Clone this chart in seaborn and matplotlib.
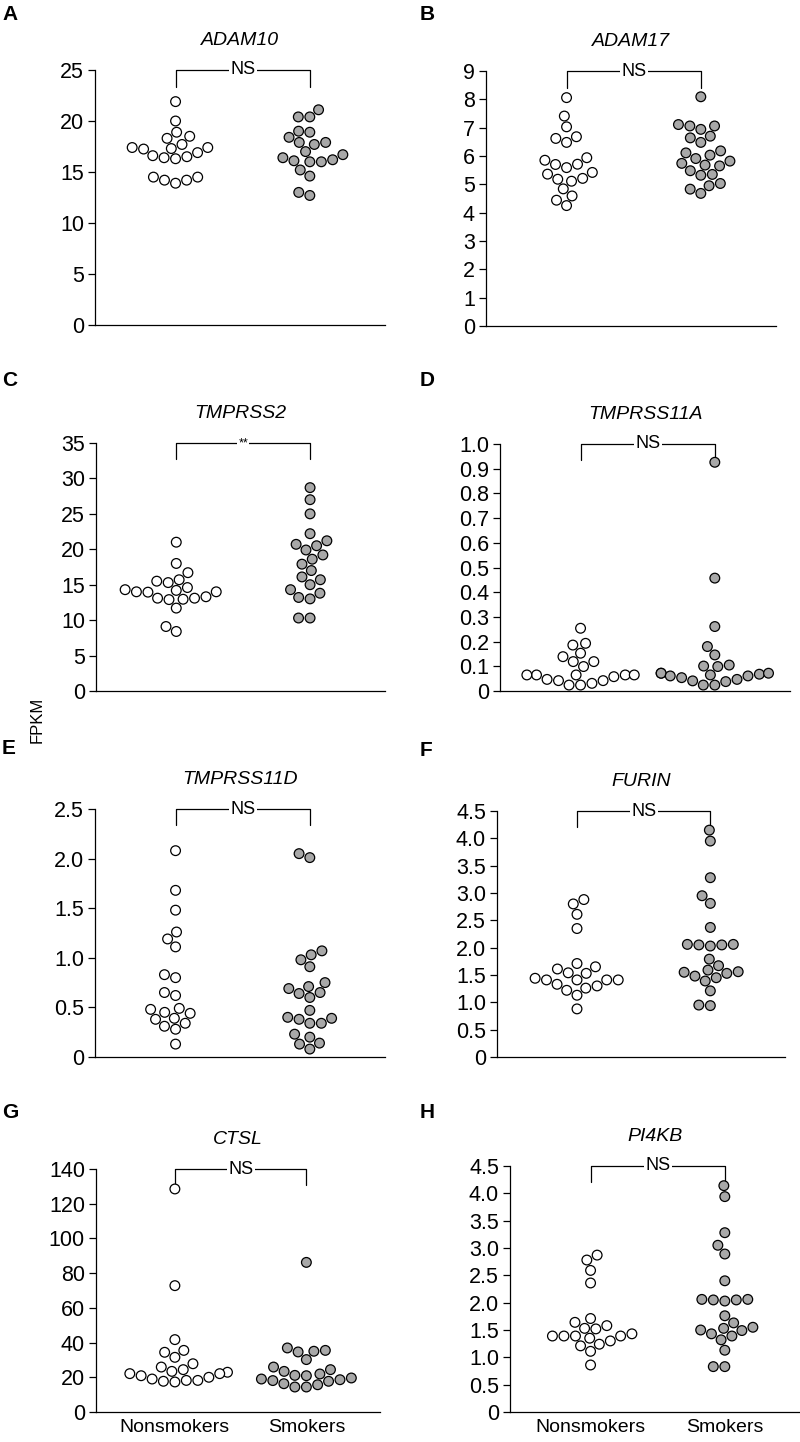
import numpy as np
import pandas as pd
import matplotlib
matplotlib.use("Agg")
import matplotlib.pyplot as plt
import seaborn as sns

# --- datos (FPKM) ---
groups = ["Nonsmokers", "Smokers"]

adam10_non = [21.9, 20.0, 18.9, 18.5, 18.3, 17.7, 17.4, 17.3, 17.25, 17.4,
              16.9, 16.4, 16.3, 16.5, 16.6, 14.5, 14.5, 14.2, 14.2, 13.9]
adam10_smk = [21.1, 20.4, 20.4, 19.0, 18.9, 18.4, 17.7, 17.9, 17.9, 17.0,
              16.7, 16.4, 16.1, 16.0, 16.0, 16.2, 15.2, 14.6, 13.0, 12.7]

adam17_non = [8.06, 7.41, 7.03, 6.68, 6.62, 6.48, 5.94, 5.85, 5.70, 5.71,
              5.59, 5.42, 5.36, 5.18, 5.21, 5.11, 4.84, 4.59, 4.44, 4.25]
adam17_smk = [8.09, 7.06, 6.94, 7.11, 7.06, 6.70, 6.64, 6.48, 6.18, 6.11,
              6.03, 5.91, 5.82, 5.74, 5.68, 5.65, 5.48, 5.35, 5.32, 5.03,
              4.95, 4.83, 4.68]

tmprss2_non = [21.0, 18.0, 16.7, 15.7, 15.5, 15.3, 14.6, 14.3, 14.2, 14.0,
               14.0, 13.95, 13.3, 12.95, 12.9, 13.1, 13.1, 11.7, 9.1, 8.4]
tmprss2_smk = [28.7, 27.0, 25.0, 22.2, 21.2, 20.7, 20.5, 19.9, 19.2, 18.6,
               17.9, 17.0, 16.1, 15.7, 15.0, 14.3, 13.8, 13.2, 13.0, 10.3, 10.3]

tmprss11a_non = [0.254, 0.193, 0.186, 0.153, 0.139, 0.119, 0.119, 0.099, 0.065, 0.065,
                 0.065, 0.065, 0.065, 0.058, 0.047, 0.042, 0.042, 0.031, 0.024, 0.024]
tmprss11a_smk = [0.926, 0.457, 0.261, 0.180, 0.146, 0.105, 0.099, 0.101, 0.068, 0.072,
                 0.072, 0.072, 0.065, 0.061, 0.061, 0.054, 0.047, 0.041, 0.038, 0.024, 0.024]

tmprss11d_non = [2.08, 1.68, 1.48, 1.26, 1.19, 1.11, 0.83, 0.80, 0.65, 0.62,
                 0.49, 0.48, 0.45, 0.44, 0.39, 0.38, 0.34, 0.31, 0.28, 0.13]
tmprss11d_smk = [2.05, 2.01, 1.07, 1.03, 0.98, 0.91, 0.75, 0.71, 0.69, 0.65,
                 0.64, 0.60, 0.47, 0.39, 0.40, 0.38, 0.34, 0.34, 0.23, 0.20,
                 0.14, 0.13, 0.08]

furin_non = [2.88, 2.80, 2.61, 2.35, 1.71, 1.65, 1.61, 1.54, 1.53, 1.41,
             1.44, 1.41, 1.41, 1.41, 1.33, 1.30, 1.26, 1.22, 1.13, 0.88]
furin_smk = [4.15, 3.95, 3.28, 2.95, 2.81, 2.37, 2.05, 2.05, 2.03, 2.06,
             2.06, 1.79, 1.67, 1.59, 1.55, 1.56, 1.53, 1.48, 1.45, 1.39,
             1.21, 0.94, 0.95]

ctsl_non = [128.5, 72.8, 41.7, 35.5, 34.4, 31.5, 27.8, 25.9, 24.4, 23.4,
            22.9, 22.1, 22.1, 20.9, 20.0, 19.0, 18.2, 18.2, 17.7, 17.3]
ctsl_smk = [86.2, 36.9, 35.0, 35.5, 34.6, 30.2, 25.9, 24.4, 23.4, 21.9,
            21.1, 20.9, 19.6, 19.0, 18.6, 18.1, 17.7, 16.3, 15.7, 14.4, 14.4]

pi4kb_non = [2.87, 2.78, 2.59, 2.36, 1.71, 1.64, 1.58, 1.53, 1.52, 1.43,
             1.39, 1.39, 1.39, 1.39, 1.35, 1.30, 1.24, 1.21, 1.11, 0.86]
pi4kb_smk = [4.14, 3.94, 3.28, 3.05, 2.89, 2.40, 2.05, 2.05, 2.03, 2.06,
             2.06, 1.76, 1.63, 1.55, 1.53, 1.50, 1.49, 1.43, 1.39, 1.32,
             1.13, 0.83, 0.83]

genes = ["ADAM10", "ADAM17", "TMPRSS2", "TMPRSS11A",
         "TMPRSS11D", "FURIN", "CTSL", "PI4KB"]
letters = ["A", "B", "C", "D", "E", "F", "G", "H"]
signif = ["NS", "NS", "**", "NS", "NS", "NS", "NS", "NS"]
values = [(adam10_non, adam10_smk), (adam17_non, adam17_smk),
          (tmprss2_non, tmprss2_smk), (tmprss11a_non, tmprss11a_smk),
          (tmprss11d_non, tmprss11d_smk), (furin_non, furin_smk),
          (ctsl_non, ctsl_smk), (pi4kb_non, pi4kb_smk)]
y_max = [25, 9, 35, 1.0, 2.5, 4.5, 140, 4.5]
y_step = [5, 1, 5, 0.1, 0.5, 0.5, 20, 0.5]
y_dec = [0, 0, 0, 1, 1, 1, 0, 1]

# posiciones de los ejes en pixeles (izq, arriba, der, abajo)
W, H = 800, 1442
boxes = [(95, 70, 385, 325), (486, 71, 776, 326),
         (96, 443, 385, 691), (500, 444, 790, 691),
         (95, 809, 385, 1057), (497, 811, 785, 1057),
         (96, 1169, 380, 1412), (510, 1166, 800, 1412)]
letter_pos = [(2, 15), (420, 15), (2, 380), (420, 380),
              (2, 749), (420, 750), (2, 1113), (420, 1112)]

sns.set_style("white")
plt.rcParams["font.family"] = ["Liberation Sans", "DejaVu Sans"]
plt.rcParams["text.color"] = "black"
plt.rcParams["xtick.color"] = "black"
plt.rcParams["ytick.color"] = "black"

fig = plt.figure(figsize=(W / 100, H / 100), dpi=100)

for i, gene in enumerate(genes):
    l, t, r, b = boxes[i]
    ax = fig.add_axes([l / W, 1 - b / H, (r - l) / W, (b - t) / H])
    non, smk = values[i]
    df = pd.DataFrame({
        "grupo": [groups[0]] * len(non) + [groups[1]] * len(smk),
        "fpkm": list(non) + list(smk),
    })
    sns.swarmplot(data=df, x="grupo", y="fpkm", hue="grupo", order=groups,
                  palette={groups[0]: "white", groups[1]: "#a8a8a8"},
                  edgecolor="black", linewidth=0.9, size=7.0,
                  legend=False, ax=ax, clip_on=False)
    ax.set_xlim(-0.6, 1.56)
    ax.set_ylim(0, y_max[i])
    ticks = np.round(np.arange(0, y_max[i] + y_step[i] / 2, y_step[i]), 3)
    ax.set_yticks(ticks)
    ax.set_yticklabels(["0" if v == 0 else f"{v:.{y_dec[i]}f}" for v in ticks])
    ax.tick_params(axis="y", direction="out", length=5, width=0.9,
                   labelsize=15.5, pad=3, left=True)
    ax.tick_params(axis="x", length=0, labelsize=14, pad=5)
    if i < 6:
        ax.set_xticklabels([])
    ax.set_xlabel("")
    ax.set_ylabel("")
    for s in ["top", "right"]:
        ax.spines[s].set_visible(False)
    for s in ["left", "bottom"]:
        ax.spines[s].set_linewidth(0.9)
        ax.spines[s].set_color("black")
    ax.set_title(gene, style="italic", fontsize=14, pad=18)

    # corchete de significancia
    ym = y_max[i]
    drop = ym * 0.065
    ax.plot([0, 0, 1, 1], [ym - drop, ym, ym, ym - drop], color="black",
            lw=0.9, clip_on=False)
    ax.text(0.5, ym, signif[i], ha="center", va="center",
            fontsize=13 if signif[i] == "NS" else 9,
            bbox=dict(facecolor="white", edgecolor="none", pad=1.0))

    lx, ly = letter_pos[i]
    fig.text(lx / W, 1 - ly / H, letters[i], fontsize=15, fontweight="bold",
             ha="left", va="center")

fig.text(37 / W, 1 - 720 / H, "FPKM", rotation=90, fontsize=12,
         ha="center", va="center")

fig.savefig("out.png", dpi=100)
